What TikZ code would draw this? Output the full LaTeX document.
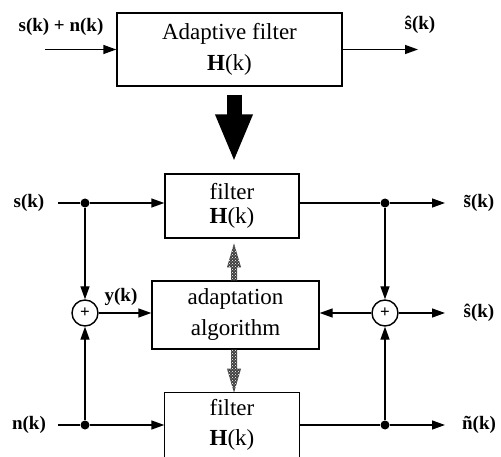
\documentclass[tikz,border=0pt]{standalone}
\usepackage{fontspec}
\setmainfont{Liberation Serif}
\usetikzlibrary{arrows.meta,patterns}

\tikzset{
  block/.style={draw, line width=1.4pt, align=center, font=\fontsize{23}{24}\selectfont},
  sig/.style={font=\bfseries\fontsize{19}{19}\selectfont},
  wire/.style={line width=1.4pt},
  flow/.style={wire, -{Triangle[length=13pt,width=9pt]}},
  junct/.style={circle, fill, inner sep=0pt, minimum size=9pt},
  adder/.style={circle, draw, line width=1.4pt, minimum size=26pt, inner sep=0pt, font=\bfseries\fontsize{17}{17}\selectfont},
  grainy/.style={preaction={fill=black!75}, pattern=crosshatch dots, pattern color=white},
}

\begin{document}
\begin{tikzpicture}[x=1pt, y=-1pt]
    \useasboundingbox (0,0) rectangle (501,457);
    \clip (0,0) rectangle (501,457);

    % one adaptive filter
    \node[block, minimum width=225pt, minimum height=73pt] (adf) at (229.5,49.5) {Adaptive filter\\[7pt]\textbf{H}(k)};
    \coordinate (adfin) at (45,49.5);
    \coordinate (adfout) at (418,49.5);
    \draw[flow] (adfin) -- (adf.west);
    \draw[flow] (adf.east) -- (adfout);
    \node[sig] (adfx) at (61,27) {s(k) + n(k)};
    \node[sig] (adfy) at (420,25) {ŝ(k)};

    % split into two filters and an adaptation block
    \node[block, minimum width=134pt, minimum height=64pt] (filtS) at (232,206) {filter\\\textbf{H}(k)};
    \node[block, minimum width=167pt, minimum height=68pt] (adapt) at (235.5,315) {adaptation\\[7pt]algorithm};
    \node[block, draw=none, minimum width=134pt, minimum height=64pt] (filtN) at (232,425) {filter\\[6pt]\textbf{H}(k)};
    \draw[wire] ([yshift=-20pt]filtN.south west) -- (filtN.north west) -- (filtN.north east) -- ([yshift=-20pt]filtN.south east);

    % big arrow between the two parts
    \draw[line width=15pt, -{Triangle[length=48pt,width=34pt]}] ([xshift=4.5pt,yshift=-8pt]adf.south) -- ([xshift=2pt,yshift=11pt]filtS.north);

    % coefficient transfer
    \path[grainy] ([xshift=-1.5pt]adapt.north) ++(-3,0) -- ++(0,-13) -- ++(-4,0) -- ++(7,-24) -- ++(7,24) -- ++(-4,0) -- ++(0,13) -- cycle;
    \path[grainy] ([xshift=-1.5pt]adapt.south) ++(-3,0) -- ++(0,19) -- ++(-4,0) -- ++(7,24) -- ++(7,-24) -- ++(-4,0) -- ++(0,-19) -- cycle;

    % inputs
    \node[sig] (slab) at (29,203) {s(k)};
    \node[sig] (nlab) at (29,425) {n(k)};
    \coordinate (sin) at (58,203);
    \coordinate (nin) at (58,425);
    \node[junct] (sdot) at (85,203) {};
    \node[junct] (ndot) at (85,425) {};
    \node[adder] (addL) at (85,313) {+};
    \draw[wire] (sin) -- (sdot);
    \draw[wire] (nin) -- (ndot);
    \draw[flow] (sdot) -- (sdot -| filtS.west);
    \draw[flow] (ndot) -- (ndot -| filtN.west);
    \draw[flow] (sdot) -- (addL);
    \draw[flow] (ndot) -- (addL);
    \draw[flow] (addL) -- (addL -| adapt.west);
    \node[sig] (ylab) at (121,297) {y(k)};

    % outputs
    \node[junct] (sdotR) at (385,203) {};
    \node[junct] (ndotR) at (385,425) {};
    \node[adder] (addR) at (385,313) {+};
    \coordinate (sout) at (445,203);
    \coordinate (shout) at (445,313);
    \coordinate (nout) at (445,425);
    \draw[wire] (filtS.east |- sdotR) -- (sdotR);
    \draw[wire] (filtN.east |- ndotR) -- (ndotR);
    \draw[flow] (sdotR) -- (sout);
    \draw[flow] (ndotR) -- (nout);
    \draw[flow] (sdotR) -- (addR);
    \draw[flow] (ndotR) -- (addR);
    \draw[flow] (addR) -- (addR -| adapt.east);
    \draw[flow] (addR) -- (shout);
    \node[sig] (stlab) at (479,203) {\~{s}(k)};
    \node[sig] (shlab) at (479,313) {ŝ(k)};
    \node[sig] (ntlab) at (479,425) {ñ(k)};

\end{tikzpicture}
\end{document}
